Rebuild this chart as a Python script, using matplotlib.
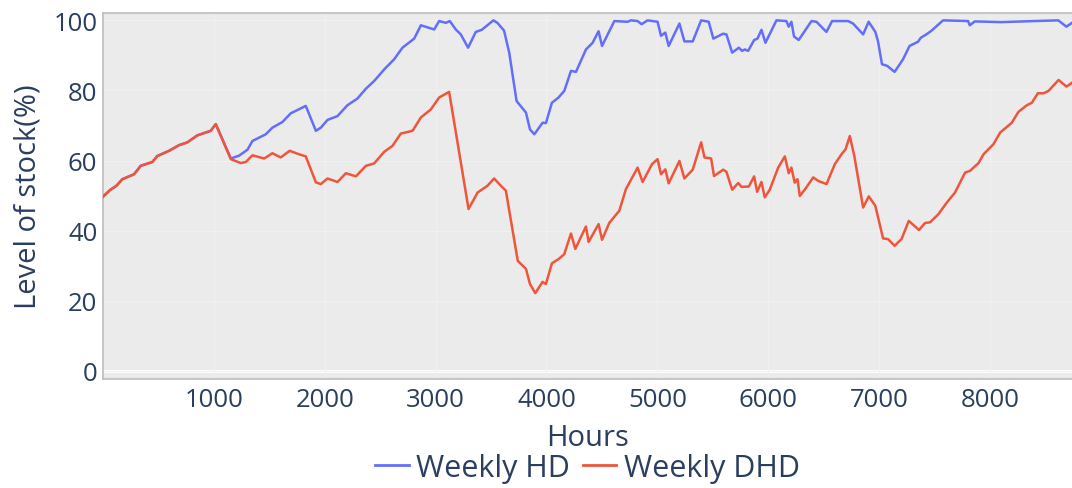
import matplotlib
matplotlib.use("Agg")
import matplotlib.pyplot as plt
from matplotlib.lines import Line2D

plt.rcParams['font.family'] = ['Open Sans', 'DejaVu Sans']

hours_hd = [0, 60, 120, 175, 280, 340, 445, 490, 596, 686, 761, 851, 972, 1017,
            1153, 1227, 1303, 1348, 1468, 1528, 1618, 1694, 1829, 1920, 1965, 2025, 2115,
            2205, 2295, 2371, 2446, 2536, 2626, 2701, 2807, 2867, 2987, 3032, 3092, 3128,
            3182, 3227, 3293, 3362, 3416, 3467, 3521, 3557, 3617, 3664, 3730, 3815, 3851,
            3890, 3965, 3995, 4049, 4109, 4161, 4221, 4266, 4356, 4416, 4470, 4501, 4612,
            4732, 4762, 4822, 4858, 4912, 5002, 5033, 5072, 5102, 5199, 5244, 5319, 5395,
            5463, 5505, 5594, 5623, 5675, 5735, 5765, 5789, 5819, 5873, 5903, 5939, 5975,
            6074, 6164, 6185, 6209, 6233, 6275, 6390, 6435, 6525, 6576, 6720, 6765, 6856,
            6906, 6966, 6990, 7026, 7074, 7140, 7216, 7275, 7351, 7375, 7426, 7471, 7577,
            7803, 7818, 7863, 8100, 8400, 8616, 8690, 8740]
level_hd = [49.7, 51.5, 52.8, 54.7, 56.1, 58.5, 59.6, 61.3, 62.8, 64.4, 65.2, 67.2, 68.5, 70.4,
            60.6, 61.4, 63.1, 65.6, 67.5, 69.4, 71.0, 73.5, 75.6, 68.5, 69.4, 71.6, 72.7,
            75.8, 77.7, 80.5, 82.7, 86.0, 88.9, 92.2, 94.8, 98.6, 97.4, 99.8, 99.3, 99.8,
            97.4, 96.0, 92.2, 96.7, 97.3, 98.6, 100.0, 99.3, 97.1, 90.8, 77.0, 73.7, 68.9,
            67.5, 70.8, 70.7, 76.5, 78.0, 79.9, 85.6, 85.3, 91.7, 93.6, 96.9, 92.7, 99.8,
            99.6, 100.0, 99.8, 98.9, 100.0, 99.6, 95.6, 96.5, 92.7, 99.1, 94.0, 94.0, 100.0,
            99.6, 94.8, 96.2, 96.0, 90.8, 92.2, 91.3, 91.7, 91.3, 94.4, 94.8, 97.3, 93.6,
            100.0, 99.8, 98.2, 99.6, 95.4, 94.4, 99.8, 99.6, 96.7, 99.8, 99.8, 99.1, 96.0,
            99.6, 96.7, 94.1, 87.5, 87.0, 85.3, 88.9, 92.7, 93.9, 95.0, 96.0, 97.0, 100.0,
            99.8, 98.6, 99.7, 99.5, 99.8, 100.0, 98.2, 99.3]

hours_dhd = [0, 60, 120, 175, 280, 340, 445, 490, 596, 686, 761, 851, 972, 1017,
             1153, 1243, 1288, 1348, 1454, 1528, 1603, 1684, 1768, 1829, 1920, 1965, 2025,
             2115, 2191, 2281, 2371, 2446, 2536, 2611, 2686, 2792, 2867, 2957, 3032, 3122,
             3297, 3379, 3467, 3528, 3574, 3634, 3741, 3815, 3851, 3899, 3965, 3995, 4049,
             4109, 4160, 4221, 4260, 4356, 4380, 4470, 4501, 4566, 4657, 4717, 4822, 4867,
             4952, 5002, 5033, 5072, 5102, 5199, 5244, 5319, 5395, 5425, 5485, 5511, 5594,
             5623, 5675, 5729, 5759, 5825, 5873, 5900, 5939, 5969, 6014, 6090, 6150, 6185,
             6209, 6239, 6264, 6285, 6336, 6406, 6451, 6526, 6601, 6661, 6697, 6736, 6776,
             6856, 6907, 6966, 7036, 7081, 7140, 7202, 7268, 7360, 7414, 7460, 7535, 7610,
             7685, 7776, 7821, 7897, 7942, 8032, 8092, 8197, 8257, 8333, 8378, 8432, 8483,
             8529, 8619, 8690, 8740]
level_dhd = [49.7, 51.5, 52.8, 54.7, 56.1, 58.5, 59.6, 61.3, 62.8, 64.4, 65.2, 67.2, 68.5, 70.4,
             60.4, 59.3, 59.6, 61.5, 60.6, 62.1, 60.9, 62.8, 61.8, 61.2, 53.8, 53.3, 54.9,
             53.9, 56.4, 55.5, 58.5, 59.2, 62.5, 64.2, 67.7, 68.5, 72.3, 74.6, 78.0, 79.6,
             46.2, 50.9, 52.8, 54.9, 53.3, 51.4, 31.4, 29.1, 24.8, 22.2, 25.4, 24.8, 30.7,
             31.9, 33.3, 39.2, 34.8, 41.2, 36.8, 41.9, 37.4, 42.2, 45.7, 51.9, 58.0, 53.9,
             59.0, 60.4, 56.1, 57.5, 53.5, 59.9, 54.9, 57.4, 65.2, 60.9, 60.6, 55.6, 57.4,
             56.8, 51.7, 53.6, 52.5, 52.6, 55.5, 51.1, 53.9, 49.5, 51.7, 58.0, 61.2, 56.4,
             58.0, 53.7, 54.7, 49.9, 52.0, 55.2, 54.2, 53.3, 59.0, 61.8, 63.2, 67.0, 61.4,
             46.6, 49.8, 47.1, 37.8, 37.6, 35.7, 37.6, 42.8, 40.2, 42.2, 42.4, 44.7, 48.0,
             50.9, 56.6, 57.1, 59.3, 61.8, 64.7, 68.0, 70.8, 73.9, 75.8, 76.5, 79.2, 79.2,
             79.9, 83.0, 81.1, 82.2]

series_names = ["Weekly HD", "Weekly DHD"]
x_ticks = [1000, 2000, 3000, 4000, 5000, 6000, 7000, 8000]
y_ticks = [0, 20, 40, 60, 80, 100]

text_color = "#2a3f5f"
blue = "#636efa"
red = "#ef553b"

fig = plt.figure(figsize=(10.72, 4.89), dpi=100)
ax = fig.add_axes([103 / 1072, 1 - 380 / 489, 1 - 103 / 1072, (380 - 14) / 489])
ax.set_facecolor("#ebebeb")

ax.plot(hours_hd, level_hd, color=blue, lw=1.8, zorder=3)
ax.plot(hours_dhd, level_dhd, color=red, lw=1.8, zorder=4)

ax.set_xlim(0, 8740)
ax.set_ylim(-2.3, 102.1)
ax.set_xticks(x_ticks)
ax.set_yticks(y_ticks)
ax.grid(True, color="#f0f0f0", lw=0.8, zorder=0)
ax.axhline(0, color="white", lw=2.2, zorder=1)
ax.tick_params(length=0, colors=text_color, labelsize=18.5)
ax.tick_params(axis="y", pad=4)
ax.tick_params(axis="x", pad=6)
for s in ["left", "top", "bottom"]:
    ax.spines[s].set_color("#bdbdbd")
    ax.spines[s].set_linewidth(1.2)
ax.spines["right"].set_visible(False)

ax.set_xlabel("Hours", fontsize=21, color=text_color, labelpad=8)
ax.set_ylabel("Level of stock(%)", fontsize=21, color=text_color, labelpad=8)

handles = [Line2D([], [], color=blue, lw=2), Line2D([], [], color=red, lw=2)]
fig.legend(handles, series_names, loc="center", bbox_to_anchor=(0.548, 1 - 469 / 489),
           ncol=2, frameon=False, fontsize=22, labelcolor=text_color,
           handlelength=1.1, handletextpad=0.25, columnspacing=0.4, borderaxespad=0)

fig.savefig("out.png", dpi=100)
